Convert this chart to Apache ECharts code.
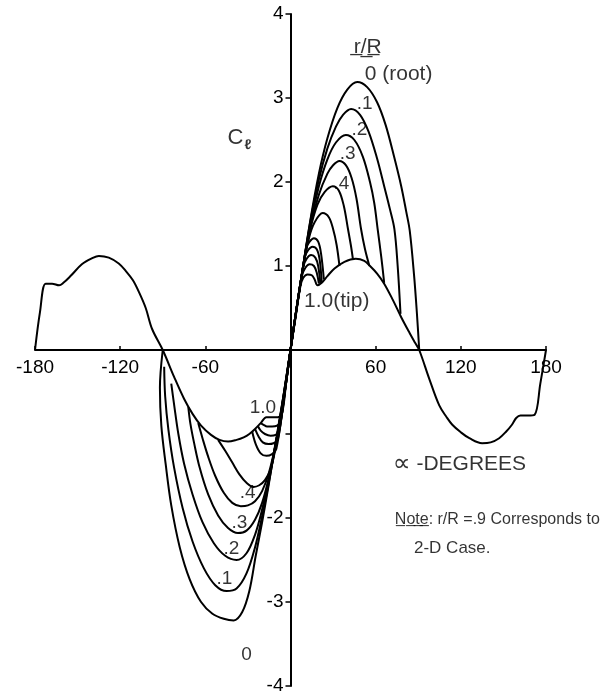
<!DOCTYPE html>
<html>
<head>
<meta charset="utf-8">
<script src="https://cdn.jsdelivr.net/npm/echarts@6/dist/echarts.min.js"></script>
<style>
  html, body { margin: 0; padding: 0; background: #fff; }
  #chart { width: 603px; height: 698px; }
</style>
</head>
<body>
<div id="chart"></div>
<script>
// Lift coefficient C_l against angle of attack (degrees) for blade stations r/R.
const alphaTicks = [-180, -120, -60, 0, 60, 120, 180];
const clTicks = [-4, -3, -2, -1, 0, 1, 2, 3, 4];
const hiddenAlphaLabels = [0];
const hiddenClLabels = [0, -1];

// r/R = 1.0 (tip): the full curve, which the other stations leave and rejoin
const tip = [
  [-180, 0], [-176.5, 0.45], [-172.5, 0.79], [-168, 0.79], [-163, 0.77], [-160, 0.8],
  [-155, 0.88], [-147, 1.02], [-140, 1.09], [-135, 1.12], [-128, 1.1], [-121, 1.03],
  [-116, 0.94], [-111, 0.83], [-106.5, 0.68], [-102, 0.5], [-97.5, 0.25], [-90, 0],
  [-82, -0.32], [-75, -0.58], [-69, -0.76], [-63, -0.9], [-56, -1.01], [-50, -1.07],
  [-44, -1.09], [-38, -1.07], [-33, -1.04], [-29, -1.0], [-25, -0.94], [-21, -0.87],
  [-17, -0.8], [-13, -0.8], [-9, -0.8], [-6, -0.76], [-3, -0.38], [0, 0],
  [3.5, 0.38], [7, 0.76], [9, 0.86], [12, 0.9], [15, 0.89], [17, 0.84], [19, 0.77],
  [22, 0.8], [26, 0.88], [31, 0.97], [38, 1.05], [46, 1.085], [52, 1.06], [56, 1.0],
  [61, 0.91], [66, 0.79], [72, 0.6], [78, 0.39], [84, 0.2], [88, 0.08], [90.7, 0],
  [97.7, -0.34], [104.8, -0.66], [110, -0.8], [114, -0.89], [120, -0.98], [126, -1.05],
  [135, -1.11], [141, -1.1], [147, -1.05], [152, -0.97], [156, -0.89], [159, -0.81],
  [162, -0.78], [167, -0.78], [172, -0.77], [176, -0.4], [180, 0]
];

// positive-alpha branches
const posRoot = [[0, 0], [8, 0.9], [14, 1.55], [20, 2.1], [26, 2.52], [33, 2.88], [40, 3.1],
  [47, 3.19], [54, 3.13], [61, 2.95], [67, 2.68], [73, 2.3], [78, 1.95], [81.5, 1.65],
  [84, 1.42], [87, 0.9], [89, 0.45], [90.7, 0]];
const pos01 = [[0, 0], [8, 0.9], [14, 1.53], [20, 2.03], [26, 2.4], [32, 2.66], [37, 2.8],
  [42.7, 2.87], [49, 2.8], [55, 2.6], [61, 2.28], [66, 1.95], [70, 1.68], [73.2, 1.44],
  [75.5, 1.0], [77.5, 0.43]];
const pos02 = [[0, 0], [8, 0.9], [14, 1.5], [20, 1.95], [26, 2.27], [32, 2.47], [39, 2.56],
  [45, 2.5], [51, 2.3], [56, 2.0], [59, 1.75], [61.4, 1.44], [64, 1.1], [66, 0.8]];
const pos03 = [[0, 0], [8, 0.9], [14, 1.47], [20, 1.85], [26, 2.1], [30, 2.2], [34.5, 2.25],
  [39, 2.2], [43, 2.05], [46.5, 1.8], [49.7, 1.44], [52.5, 1.2], [55.6, 1.0]];
const pos04 = [[0, 0], [8, 0.9], [14, 1.44], [19, 1.73], [24, 1.88], [29.8, 1.95], [34, 1.9],
  [37.5, 1.72], [40.5, 1.44], [42.5, 1.25], [44, 1.08]];
const pos05 = [[0, 0], [8, 0.9], [13, 1.33], [17, 1.52], [22.7, 1.63], [27, 1.58], [30, 1.44],
  [32.5, 1.25], [34.5, 1.0]];
const pos06 = [[0, 0], [11, 1.21], [13.5, 1.29], [16.5, 1.33], [19.5, 1.29], [21.5, 1.15], [23.5, 0.84]];
const pos07 = [[0, 0], [10, 1.1], [12.5, 1.19], [15.5, 1.23], [18.5, 1.2], [20.5, 1.08], [22, 0.81]];
const pos08 = [[0, 0], [9, 0.99], [11.5, 1.09], [14.5, 1.13], [17.5, 1.1], [19.5, 1.0], [21, 0.79]];
const pos09 = [[0, 0], [8, 0.88], [10.5, 0.98], [13.5, 1.02], [16.5, 1.0], [18.5, 0.92], [20, 0.79]];

// negative-alpha branches
const negRoot = [[-90, 0], [-92, -0.45], [-91, -0.9], [-88, -1.35], [-84, -1.85], [-78, -2.35],
  [-71, -2.73], [-63, -3.0], [-55, -3.14], [-47, -3.2], [-40, -3.22], [-34, -3.12],
  [-29, -2.87], [-24.5, -2.45], [-20, -2.05], [-15.5, -1.62], [-11, -1.15], [-5.5, -0.6], [0, 0]];
const neg01 = [[-89, -0.2], [-88.3, -0.55], [-86, -0.95], [-82, -1.4], [-76, -1.88], [-69, -2.28],
  [-61, -2.6], [-53, -2.8], [-45, -2.87], [-38, -2.84], [-31, -2.66], [-25, -2.35],
  [-20, -1.98], [-15, -1.55], [-10, -1.08], [-5, -0.55], [0, 0]];
const neg02 = [[-84, -0.4], [-82, -0.65], [-79, -1.0], [-75, -1.35], [-69, -1.72], [-62, -2.05],
  [-54, -2.3], [-46, -2.45], [-38, -2.5], [-31, -2.42], [-25, -2.2], [-20, -1.9],
  [-15, -1.52], [-10, -1.08], [-5, -0.56], [0, 0]];
const neg03 = [[-72, -0.68], [-70.5, -0.88], [-68, -1.1], [-64, -1.4], [-58, -1.72], [-51, -1.97],
  [-44, -2.12], [-37, -2.18], [-31, -2.15], [-25, -2.02], [-20, -1.82], [-15, -1.5],
  [-10, -1.08], [-5, -0.57], [0, 0]];
const neg04 = [[-65, -0.87], [-62, -1.05], [-58, -1.27], [-53, -1.5], [-47, -1.7], [-41, -1.82],
  [-35, -1.86], [-30, -1.85], [-25, -1.8], [-20, -1.68], [-15, -1.45], [-10, -1.08],
  [-5, -0.58], [0, 0]];
const neg05 = [[-51, -1.07], [-46, -1.2], [-41, -1.34], [-36, -1.48], [-31, -1.58], [-26, -1.63],
  [-22, -1.61], [-18, -1.55], [-14, -1.42], [-10, -1.12], [-5, -0.6], [0, 0]];
const neg06 = [[-27, -0.97], [-24.5, -1.12], [-21, -1.23], [-17, -1.26], [-13, -1.24], [-10, -1.18],
  [-5, -0.62], [0, 0]];
const neg07 = [[-25, -0.94], [-22.5, -1.03], [-19.5, -1.1], [-15.5, -1.12], [-12, -1.11], [-9, -1.07],
  [-4.5, -0.56], [0, 0]];
const neg08 = [[-23, -0.905], [-21, -0.96], [-18, -1.0], [-14, -1.02], [-10.5, -1.01], [-8, -0.96],
  [-4, -0.5], [0, 0]];
const neg09 = [[-21, -0.87], [-19, -0.89], [-16.5, -0.91], [-13, -0.91], [-9.5, -0.9], [-7, -0.85],
  [-3.5, -0.44], [0, 0]];

const stationNames = ['0', '.1', '.2', '.3', '.4', '.5', '.6', '.7', '.8', '.9'];
const positiveBranches = [posRoot, pos01, pos02, pos03, pos04, pos05, pos06, pos07, pos08, pos09];
const negativeBranches = [negRoot, neg01, neg02, neg03, neg04, neg05, neg06, neg07, neg08, neg09];

// text placed on the plot, anchored in (alpha, C_l)
const curveTags = [
  { text: 'r\u0332/\u0332R\u0332', at: [54.4, 3.61], align: 'center', size: 21 },
  { text: '0 (root)', at: [52.3, 3.28], align: 'left', size: 21 },
  { text: '.1', at: [52.3, 2.93], align: 'center', size: 19 },
  { text: '.2', at: [48.6, 2.62], align: 'center', size: 19 },
  { text: '.3', at: [40.2, 2.34], align: 'center', size: 19 },
  { text: '.4', at: [35.8, 1.98], align: 'center', size: 19 },
  { text: '1.0(tip)', at: [32.6, 0.58], align: 'center', size: 21 },
  { text: '1.0', at: [-19.4, -0.69], align: 'center', size: 19 },
  { text: '.4', at: [-30.2, -1.7], align: 'center', size: 19 },
  { text: '.3', at: [-36, -2.06], align: 'center', size: 19 },
  { text: '.2', at: [-41.7, -2.37], align: 'center', size: 19 },
  { text: '.1', at: [-46.6, -2.72], align: 'center', size: 19 },
  { text: '0', at: [-31, -3.63], align: 'center', size: 19 }
];
const axisTitleAt = [-36, 2.53];
const alphaTitleAt = [72, -1.36];
const noteAt = [73.5, -2.02];
const noteLine2At = [87, -2.36];

const FONT = "'Liberation Sans', Arial, sans-serif";
const INK = '#000';

// plot frame in pixels; the two axes are shifted onto the zero lines
const frame = { left: 35, right: 57, top: 14, bottom: 12, width: 603, height: 698 };
const plotW = frame.width - frame.left - frame.right;
const plotH = frame.height - frame.top - frame.bottom;
const xMin = alphaTicks[0], xMax = alphaTicks[alphaTicks.length - 1];
const yMin = clTicks[0], yMax = clTicks[clTicks.length - 1];
const xAxisShift = -plotH * (0 - yMin) / (yMax - yMin);
const yAxisShift = -plotW * (0 - xMin) / (xMax - xMin);

function curveSeries(points) {
  return {
    type: 'line',
    data: points,
    showSymbol: false,
    symbol: 'none',
    smooth: 0.35,
    lineStyle: { color: INK, width: 2 },
    silent: true,
    z: 3
  };
}

function textPoint(at, label) {
  return { value: at, label: Object.assign({ show: true, position: 'inside', color: INK, fontFamily: FONT }, label) };
}

const series = [curveSeries(tip)];
stationNames.forEach((name, i) => {
  series.push(Object.assign(curveSeries(positiveBranches[i]), { name: name + ' +' }));
  series.push(Object.assign(curveSeries(negativeBranches[i]), { name: name + ' -' }));
});

const textItems = curveTags.map(t => textPoint(t.at, {
  formatter: t.text, align: t.align, verticalAlign: 'middle', fontSize: t.size
}));
textItems.push(textPoint(axisTitleAt, {
  formatter: '{c|C}{l|\u2113}',
  rich: {
    c: { fontSize: 22, fontFamily: FONT, color: INK },
    l: { fontSize: 14, fontFamily: FONT, color: INK, fontWeight: 'bold', padding: [16, 0, 0, 1] }
  }
}));
textItems.push(textPoint(alphaTitleAt, {
  formatter: '{a|\u221D}{t| -DEGREES}',
  align: 'left', verticalAlign: 'middle',
  rich: {
    a: { fontSize: 25, fontFamily: "'DejaVu Sans', sans-serif", color: INK },
    t: { fontSize: 21, fontFamily: FONT, color: INK }
  }
}));
textItems.push(textPoint(noteAt, {
  formatter: 'N\u0332o\u0332t\u0332e\u0332: r/R =.9 Corresponds to',
  align: 'left', verticalAlign: 'middle', fontSize: 16
}));
textItems.push(textPoint(noteLine2At, {
  formatter: '2-D Case.', align: 'left', verticalAlign: 'middle', fontSize: 17
}));

series.push({
  type: 'scatter',
  symbolSize: 0,
  silent: true,
  z: 5,
  data: textItems
});

const chart = echarts.init(document.getElementById('chart'), null, { renderer: 'canvas' });
chart.setOption({
  animation: false,
  backgroundColor: '#fff',
  grid: {
    left: frame.left, right: frame.right, top: frame.top, bottom: frame.bottom,
    containLabel: false, outerBoundsMode: 'none'
  },
  xAxis: {
    type: 'value',
    min: xMin,
    max: xMax,
    interval: 60,
    offset: xAxisShift,
    axisLine: { onZero: false, lineStyle: { color: INK, width: 2 } },
    axisTick: { show: true, inside: true, length: 4, lineStyle: { color: INK, width: 1.5 } },
    splitLine: { show: false },
    axisLabel: {
      margin: 8,
      fontSize: 19,
      fontFamily: FONT,
      color: INK,
      formatter: v => hiddenAlphaLabels.includes(v) ? '' : String(v)
    }
  },
  yAxis: {
    type: 'value',
    min: yMin,
    max: yMax,
    interval: 1,
    offset: yAxisShift,
    axisLine: { onZero: false, lineStyle: { color: INK, width: 2 } },
    axisTick: { show: true, inside: false, length: 5, lineStyle: { color: INK, width: 1.5 } },
    splitLine: { show: false },
    axisLabel: {
      margin: 7,
      fontSize: 19,
      fontFamily: FONT,
      color: INK,
      formatter: v => hiddenClLabels.includes(v) ? '' : String(v)
    }
  },
  series: series
});
</script>
</body>
</html>
